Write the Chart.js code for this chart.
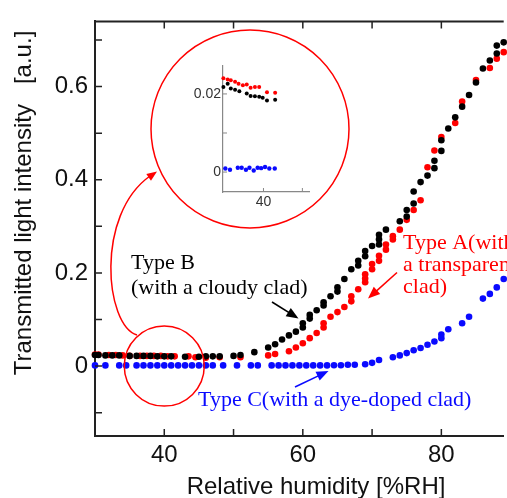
<!DOCTYPE html>
<html>
<head>
<meta charset="utf-8">
<script src="https://cdn.jsdelivr.net/npm/chart.js@4/dist/chart.umd.min.js"></script>
<style>
  html, body { margin: 0; padding: 0; background: #fff; }
  #wrap { position: relative; width: 507px; height: 498px; overflow: hidden; }
  #main { position: absolute; left: 0; top: 0; }
  #inset { position: absolute; left: 170px; top: 55px; }
</style>
</head>
<body>
<div id="wrap">
  <canvas id="main" width="507" height="498"></canvas>
  <canvas id="inset" width="145" height="160"></canvas>
</div>
<script>
// main chart data: relative humidity [%RH] vs transmitted intensity [a.u.]
const typeBX = [30, 30.5, 31.5, 32.5, 33.5, 35, 36, 37, 38, 39, 40, 41, 43, 45, 46, 47, 48, 50, 51,
  53, 55, 56, 57, 58, 59, 60, 60, 61, 61, 62, 63, 63, 64, 65, 65, 66, 67, 68, 68, 69, 69, 70, 71, 71, 71,
  72, 74, 75, 75, 76, 76, 77, 78, 79, 79, 80, 80, 81, 82, 83, 84, 85, 86, 87, 88, 88, 89];
const typeBY = [0.024, 0.024, 0.023, 0.023, 0.023, 0.022, 0.022, 0.022, 0.022, 0.021, 0.021, 0.021, 0.020, 0.020, 0.021, 0.021, 0.021, 0.022, 0.024,
  0.030, 0.040, 0.047, 0.057, 0.066, 0.074, 0.083, 0.092, 0.102, 0.110, 0.120, 0.130, 0.137, 0.150, 0.160, 0.169, 0.187, 0.208, 0.216, 0.226, 0.236, 0.247, 0.258, 0.261, 0.272, 0.282,
  0.293, 0.311, 0.321, 0.335, 0.349, 0.375, 0.395, 0.409, 0.425, 0.441, 0.462, 0.485, 0.510, 0.534, 0.557, 0.582, 0.609, 0.639, 0.656, 0.671, 0.688, 0.695];

const typeAX = [30, 30.5, 32, 33, 34, 35, 36.5, 37.5, 38.5, 39.5, 40.5, 41.5, 43.5, 44.5, 46, 48, 51,
  55, 56, 58, 59, 60, 61, 62, 63, 63, 64, 65, 66, 67, 67, 68, 69, 69, 69, 70, 70, 71, 71, 72, 72, 73, 73,
  74, 75, 76, 77, 78, 79, 80, 82, 83, 85, 87, 88, 89];
const typeAY = [0.025, 0.025, 0.024, 0.024, 0.023, 0.022, 0.022, 0.022, 0.022, 0.022, 0.021, 0.021, 0.021, 0.019, 0.018, 0.019, 0.019,
  0.023, 0.026, 0.032, 0.040, 0.049, 0.060, 0.071, 0.083, 0.092, 0.106, 0.116, 0.127, 0.139, 0.150, 0.165, 0.180, 0.188, 0.197, 0.208, 0.219, 0.226, 0.237, 0.250, 0.261, 0.272, 0.279,
  0.293, 0.314, 0.335, 0.356, 0.427, 0.463, 0.492, 0.522, 0.568, 0.614, 0.640, 0.660, 0.674];

const typeCX = [30, 31.5, 33.5, 34.5, 36, 37, 38, 39, 40, 41, 42, 43, 44, 45, 46, 47, 48.5, 50.5, 52.5, 53.5,
  55.5, 56.5, 57.5, 58.5, 59.5, 60.5, 61.5, 62.5, 63.5, 64.5, 65.5, 66.5, 67.5,
  69, 70, 71, 73, 74, 75, 76, 77, 78, 79, 80, 80, 81, 83, 84, 86, 87, 88, 89];
const typeCY = [0.0015, 0.0015, 0.0015, 0.0015, 0.0015, 0.0015, 0.0015, 0.0015, 0.0015, 0.0015, 0.0015, 0.0015, 0.0015, 0.0015, 0.0015, 0.0015, 0.0015, 0.0015, 0.0015, 0.0015,
  0.0015, 0.0015, 0.0015, 0.0015, 0.0015, 0.0015, 0.0015, 0.0015, 0.0015, 0.002, 0.002, 0.003, 0.003,
  0.004, 0.007, 0.013, 0.019, 0.023, 0.028, 0.034, 0.039, 0.046, 0.053, 0.060, 0.068, 0.079, 0.092, 0.106, 0.145, 0.155, 0.169, 0.187];

const xTickLabels = [40, 60, 80];
const xTickMarks = [40, 50, 60, 70, 80];
const yTickLabels = [0, 0.2, 0.4, 0.6];
const yTickMarks = [-0.1, 0, 0.1, 0.2, 0.3, 0.4, 0.5, 0.6, 0.7];

// inset (zoom of the low humidity range)
const insetAX = [29.7, 30.8, 31.6, 32.7, 33.6, 34.7, 35.7, 36.7, 37.8, 38.9, 40.9, 43.0];
const insetAY = [0.0240, 0.0237, 0.0235, 0.0231, 0.0226, 0.0222, 0.0224, 0.0216, 0.0218, 0.0218, 0.0204, 0.0203];
const insetBX = [29.7, 30.8, 31.6, 32.7, 33.8, 35.7, 36.7, 37.8, 38.9, 39.8, 40.9, 43.0];
const insetBY = [0.0218, 0.0226, 0.0214, 0.0211, 0.0207, 0.0201, 0.0195, 0.0194, 0.0193, 0.0190, 0.0183, 0.0185];
const insetCX = [30.2, 31.4, 33.4, 34.4, 35.5, 36.4, 37.5, 38.5, 39.4, 40.4, 41.5, 42.9];
const insetCY = [0.0009, 0.0006, 0.0011, 0.0011, 0.0006, 0.0011, 0.0004, 0.0011, 0.0010, 0.0013, 0.0009, 0.0009];
const insetXTickLabels = [40];
const insetXTickMarks = [40, 50];
const insetYTickLabels = [0, 0.02];
const insetYTickMarks = [0, 0.01, 0.02];

const RED = '#ff0000';
const BLUE = '#0a0aff';
const BLACK = '#000000';
const AXIS = '#222222';

function pts(xs, ys) {
  return xs.map((x, i) => ({ x: x, y: ys[i] }));
}

function arrow(ctx, x1, y1, x2, y2, color, head) {
  const a = Math.atan2(y2 - y1, x2 - x1);
  ctx.strokeStyle = color;
  ctx.lineWidth = 1.6;
  ctx.beginPath();
  ctx.moveTo(x1, y1);
  ctx.lineTo(x2 - Math.cos(a) * head * 0.6, y2 - Math.sin(a) * head * 0.6);
  ctx.stroke();
  arrowHead(ctx, x2, y2, a, head, color);
}

function arrowHead(ctx, x, y, a, head, color) {
  ctx.fillStyle = color;
  ctx.beginPath();
  ctx.moveTo(x, y);
  ctx.lineTo(x - Math.cos(a - 0.38) * head, y - Math.sin(a - 0.38) * head);
  ctx.lineTo(x - Math.cos(a + 0.38) * head, y - Math.sin(a + 0.38) * head);
  ctx.closePath();
  ctx.fill();
}

// inward ticks, top frame, titles and annotations
const frameAndNotes = {
  id: 'frameAndNotes',
  afterDraw(chart) {
    const ctx = chart.ctx;
    const area = chart.chartArea;
    const xs = chart.scales.x;
    const ys = chart.scales.y;
    ctx.save();

    ctx.strokeStyle = AXIS;
    ctx.lineWidth = 1.5;
    ctx.beginPath();
    yTickMarks.forEach(v => {
      const py = ys.getPixelForValue(v);
      ctx.moveTo(area.left, py);
      ctx.lineTo(area.left + 7, py);
    });
    xTickMarks.forEach(v => {
      const px = xs.getPixelForValue(v);
      ctx.moveTo(px, area.bottom);
      ctx.lineTo(px, area.bottom - 7);
      ctx.moveTo(px, area.top);
      ctx.lineTo(px, area.top + 7);
    });
    ctx.stroke();
    ctx.lineWidth = 2;
    ctx.beginPath();
    ctx.moveTo(area.left - 1, area.top);
    ctx.lineTo(area.right, area.top);
    ctx.stroke();

    // axis titles
    ctx.fillStyle = '#111';
    ctx.font = '24px "Liberation Sans", Arial, sans-serif';
    ctx.textAlign = 'center';
    ctx.textBaseline = 'middle';
    ctx.fillText('Relative humidity [%RH]', 316, 487);
    ctx.save();
    ctx.translate(24, 203);
    ctx.rotate(-Math.PI / 2);
    ctx.fillText('Transmitted light intensity   [a.u.]', 0, 0);
    ctx.restore();

    // circles and connector
    ctx.strokeStyle = RED;
    ctx.lineWidth = 1.5;
    ctx.beginPath();
    ctx.arc(250, 129, 99, 0, Math.PI * 2);
    ctx.stroke();
    ctx.beginPath();
    ctx.arc(xs.getPixelForValue(40), ys.getPixelForValue(0), 40, 0, Math.PI * 2);
    ctx.stroke();
    ctx.beginPath();
    ctx.moveTo(137, 335);
    ctx.bezierCurveTo(105, 325, 95, 215, 150, 176);
    ctx.stroke();
    arrowHead(ctx, 157, 171.5, Math.atan2(171.5 - 215, 157 - 95), 11, RED);

    // labels
    ctx.font = '22px "Liberation Serif", "Times New Roman", serif';
    ctx.textAlign = 'left';
    ctx.fillStyle = BLACK;
    ctx.fillText('Type B', 131, 263);
    ctx.fillText('(with a cloudy clad)', 131, 288);
    ctx.fillStyle = RED;
    ctx.fillText('Type A(with', 403, 243);
    ctx.fillText('a transparent', 403, 265);
    ctx.fillText('clad)', 403, 287);
    ctx.fillStyle = BLUE;
    ctx.fillText('Type C(with a dye-doped clad)', 198, 400);

    arrow(ctx, 272, 302, 298.5, 318.5, BLACK, 13);
    arrow(ctx, 397, 272.5, 368, 298.5, RED, 13);
    arrow(ctx, 295, 387, 328.5, 371, BLUE, 13);

    ctx.restore();
  }
};

const dotStyle = (color, r) => ({
  backgroundColor: color,
  borderColor: color,
  borderWidth: 0,
  pointRadius: r,
  pointHoverRadius: r,
  showLine: false,
  clip: false
});

// first dataset is painted on top
new Chart(document.getElementById('main').getContext('2d'), {
  type: 'scatter',
  data: {
    datasets: [
      Object.assign({ label: 'Type B', data: pts(typeBX, typeBY) }, dotStyle(BLACK, 3.3)),
      Object.assign({ label: 'Type A', data: pts(typeAX, typeAY) }, dotStyle(RED, 3.3)),
      Object.assign({ label: 'Type C', data: pts(typeCX, typeCY) }, dotStyle(BLUE, 3.3))
    ]
  },
  options: {
    responsive: false,
    animation: false,
    events: [],
    layout: { padding: { top: 15, right: 0, left: 0, bottom: 0 } },
    plugins: { legend: { display: false }, tooltip: { enabled: false } },
    scales: {
      x: {
        type: 'linear',
        min: 30,
        max: 89,
        grid: { display: false, drawTicks: false },
        border: { display: true, color: AXIS, width: 2 },
        afterBuildTicks: s => { s.ticks = xTickLabels.map(v => ({ value: v })); },
        afterFit: s => { s.height = 62; },
        ticks: {
          color: '#111',
          padding: 5,
          maxRotation: 0,
          font: { family: '"Liberation Sans", Arial, sans-serif', size: 24 }
        }
      },
      y: {
        type: 'linear',
        min: -0.15,
        max: 0.74,
        grid: { display: false, drawTicks: false },
        border: { display: true, color: AXIS, width: 2 },
        afterBuildTicks: s => { s.ticks = yTickLabels.map(v => ({ value: v })); },
        afterFit: s => { s.width = 95; },
        ticks: {
          color: '#111',
          padding: 7,
          callback: v => String(v),
          font: { family: '"Liberation Sans", Arial, sans-serif', size: 24 }
        }
      }
    }
  },
  plugins: [frameAndNotes]
});

// inset chart
const insetTicks = {
  id: 'insetTicks',
  afterDraw(chart) {
    const ctx = chart.ctx;
    const area = chart.chartArea;
    const xs = chart.scales.x;
    const ys = chart.scales.y;
    ctx.save();
    ctx.strokeStyle = '#888';
    ctx.lineWidth = 1;
    ctx.beginPath();
    insetYTickMarks.forEach(v => {
      const py = ys.getPixelForValue(v);
      ctx.moveTo(area.left, py);
      ctx.lineTo(area.left + 4, py);
    });
    insetXTickMarks.forEach(v => {
      const px = xs.getPixelForValue(v);
      ctx.moveTo(px, area.bottom);
      ctx.lineTo(px, area.bottom - 4);
    });
    ctx.stroke();
    ctx.restore();
  }
};

new Chart(document.getElementById('inset').getContext('2d'), {
  type: 'scatter',
  data: {
    datasets: [
      Object.assign({ label: 'A', data: pts(insetAX, insetAY) }, dotStyle(RED, 2)),
      Object.assign({ label: 'B', data: pts(insetBX, insetBY) }, dotStyle(BLACK, 2)),
      Object.assign({ label: 'C', data: pts(insetCX, insetCY) }, dotStyle(BLUE, 2.2))
    ]
  },
  options: {
    responsive: false,
    animation: false,
    events: [],
    layout: { padding: { top: 8, right: 6, left: 0, bottom: 0 } },
    plugins: { legend: { display: false }, tooltip: { enabled: false } },
    scales: {
      x: {
        type: 'linear',
        min: 29.6,
        max: 51.7,
        grid: { display: false, drawTicks: false },
        border: { display: true, color: '#888', width: 1.2 },
        afterBuildTicks: s => { s.ticks = insetXTickLabels.map(v => ({ value: v })); },
        afterFit: s => { s.height = 23; },
        ticks: {
          color: '#333',
          padding: 2,
          maxRotation: 0,
          font: { family: '"Liberation Sans", Arial, sans-serif', size: 14 }
        }
      },
      y: {
        type: 'linear',
        min: -0.0051,
        max: 0.0273,
        grid: { display: false, drawTicks: false },
        border: { display: true, color: '#888', width: 1.2 },
        afterBuildTicks: s => { s.ticks = insetYTickLabels.map(v => ({ value: v })); },
        afterFit: s => { s.width = 53; },
        ticks: {
          color: '#333',
          padding: 2,
          callback: v => String(v),
          font: { family: '"Liberation Sans", Arial, sans-serif', size: 14 }
        }
      }
    }
  },
  plugins: [insetTicks]
});
</script>
</body>
</html>
